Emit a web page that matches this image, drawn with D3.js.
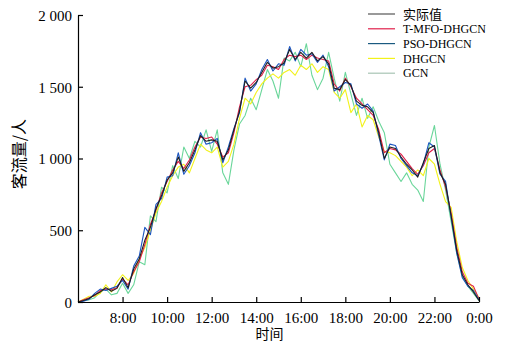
<!DOCTYPE html>
<html>
<head>
<meta charset="utf-8">
<script src="https://cdn.jsdelivr.net/npm/d3@7"></script>
<style>
  body { margin: 0; background: #fff; }
  #chart svg { display: block; }
</style>
</head>
<body>
<div id="chart"></div>
<script>
// time axis: one sample every 15 min from 6:00 to 24:00
const startHour = 6;
const stepHours = 0.25;
const xTickHours = [8, 10, 12, 14, 16, 18, 20, 22, 24];
const yTickValues = [0, 500, 1000, 1500, 2000];

const actual = [0, 10, 25, 50, 70, 100, 75, 95, 170, 100, 230, 300, 430, 520, 650, 740, 850, 900, 1010, 910,
  970, 1060, 1160, 1120, 1130, 1120, 990, 1060, 1200, 1330, 1540, 1490, 1530, 1600, 1670, 1630, 1640, 1665,
  1760, 1690, 1740, 1700, 1740, 1680, 1710, 1660, 1490, 1480, 1550, 1510, 1400, 1370, 1360, 1320, 1180, 1000,
  1080, 1070, 1010, 960, 920, 870, 970, 1070, 1090, 900, 820, 600, 360, 190, 120, 70, 10];

const tmfo = [0, 15, 30, 45, 80, 90, 85, 100, 160, 120, 210, 280, 400, 540, 640, 760, 840, 920, 980, 930,
  990, 1080, 1150, 1140, 1150, 1100, 1010, 1040, 1180, 1360, 1500, 1510, 1550, 1580, 1650, 1640, 1620, 1690,
  1720, 1710, 1720, 1690, 1720, 1700, 1690, 1680, 1520, 1470, 1560, 1500, 1420, 1380, 1340, 1300, 1200, 1040,
  1070, 1060, 1030, 980, 930, 890, 950, 1040, 1070, 920, 800, 620, 380, 210, 130, 110, 20];

const pso = [0, 5, 20, 60, 90, 80, 95, 110, 150, 90, 250, 320, 520, 470, 680, 720, 870, 880, 1040, 890,
  950, 1040, 1180, 1100, 1110, 1140, 970, 1080, 1210, 1320, 1560, 1470, 1520, 1620, 1690, 1610, 1660, 1650,
  1780, 1680, 1760, 1720, 1730, 1670, 1720, 1640, 1470, 1500, 1530, 1520, 1380, 1350, 1380, 1330, 1160, 990,
  1100, 1090, 1000, 950, 900, 880, 960, 1110, 1080, 890, 840, 590, 340, 170, 110, 80, 15];

const dhgcn = [0, 20, 40, 40, 60, 120, 70, 140, 190, 150, 200, 300, 380, 500, 620, 700, 800, 880, 940, 960,
  900, 1000, 1100, 1060, 1040, 1080, 940, 980, 1100, 1280, 1420, 1380, 1460, 1520, 1560, 1590, 1560, 1600,
  1620, 1580, 1650, 1620, 1660, 1600, 1640, 1620, 1460, 1420, 1480, 1320, 1380, 1220, 1300, 1270, 1150, 1050,
  1040, 1020, 980, 940, 880, 920, 880, 1000, 960, 820, 700, 660, 420, 240, 150, 90, 30];

const gcn = [0, 10, 15, 30, 70, 90, 50, 60, 130, 60, 120, 280, 260, 600, 560, 800, 760, 950, 860, 1080,
  1000, 1120, 1080, 1200, 1050, 1200, 900, 820, 1060, 1240, 1300, 1420, 1340, 1480, 1620, 1540, 1420, 1700,
  1680, 1740, 1640, 1800, 1580, 1480, 1560, 1740, 1560, 1400, 1600, 1450, 1300, 1420, 1280, 1360, 1260, 1180,
  960, 900, 840, 900, 820, 780, 700, 1080, 1230, 960, 780, 560, 340, 180, 110, 60, 10];

const seriesNames = ["实际值", "T-MFO-DHGCN", "PSO-DHGCN", "DHGCN", "GCN"];
const seriesData = [actual, tmfo, pso, dhgcn, gcn];
const seriesColors = ["#1e1e1e", "#e0204a", "#1b55c0", "#f2f21a", "#6ad69a"];
const legendColors = ["#555555", "#e0204a", "#1a5a80", "#f2f21a", "#a8c4b4"];

const serif = '"Times New Roman", "Liberation Serif", "DejaVu Serif", serif';
const cjk = '"Noto Sans CJK SC", sans-serif';

const width = 505, height = 343;
const margin = { top: 15, right: 26, bottom: 41, left: 78 };
const innerWidth = width - margin.left - margin.right;
const innerHeight = height - margin.top - margin.bottom;

const svg = d3.select('#chart')
  .append('svg')
  .attr('width', width)
  .attr('height', height);

const g = svg.append('g')
  .attr('transform', `translate(${margin.left},${margin.top})`);

const x = d3.scaleLinear().domain([6, 24]).range([0, innerWidth]);
const y = d3.scaleLinear().domain([0, 2000]).range([innerHeight, 0]);

const line = d3.line()
  .x((d, i) => x(startHour + i * stepHours))
  .y(d => y(d));

// draw GCN first so the actual line stays on top
const drawOrder = [4, 3, 1, 2, 0];
drawOrder.forEach(k => {
  g.append('path')
    .datum(seriesData[k])
    .attr('fill', 'none')
    .attr('stroke', seriesColors[k])
    .attr('stroke-width', 1.1)
    .attr('stroke-linejoin', 'round')
    .attr('d', line);
});

// x-axis
const xAxis = g.append('g')
  .attr('transform', `translate(0,${innerHeight})`)
  .call(d3.axisBottom(x)
    .tickValues(xTickHours)
    .tickSizeInner(-5)
    .tickSizeOuter(0)
    .tickPadding(10)
    .tickFormat(h => `${h % 24}:00`));

// y-axis
const yAxis = g.append('g')
  .call(d3.axisLeft(y)
    .tickValues(yTickValues)
    .tickSizeInner(-5)
    .tickSizeOuter(0)
    .tickPadding(6)
    .tickFormat(v => d3.format(',')(v).replace(',', ' ')));

[xAxis, yAxis].forEach(a => {
  a.attr('font-family', serif);
  a.select('.domain').attr('stroke', '#000').attr('stroke-width', 1.2);
  a.selectAll('.tick line').attr('stroke', '#000').attr('stroke-width', 1.2);
  a.selectAll('.tick text')
    .attr('fill', '#000')
    .style('font-family', serif)
    .style('font-size', '15px');
});
yAxis.selectAll('.tick text').attr('dy', '0.35em');

// axis titles
svg.append('text')
  .attr('x', margin.left + x(14.6))
  .attr('y', 339)
  .attr('text-anchor', 'middle')
  .style('font-family', cjk)
  .style('font-size', '14px')
  .text('时间');

svg.append('text')
  .attr('transform', `translate(25,${margin.top + y(1030)}) rotate(-90)`)
  .attr('text-anchor', 'middle')
  .style('font-family', cjk)
  .style('font-size', '16px')
  .text('客流量/人');

// legend
const legend = svg.append('g').attr('transform', 'translate(368,14)');
seriesNames.forEach((name, i) => {
  const row = legend.append('g').attr('transform', `translate(0,${i * 14.8})`);
  row.append('line')
    .attr('x1', 0).attr('x2', 27)
    .attr('stroke', legendColors[i])
    .attr('stroke-width', 1.2);
  row.append('text')
    .attr('x', 35)
    .attr('dy', '0.35em')
    .style('font-family', i === 0 ? cjk : serif)
    .style('font-size', i === 0 ? '13px' : '12px')
    .text(name);
});
</script>
</body>
</html>
